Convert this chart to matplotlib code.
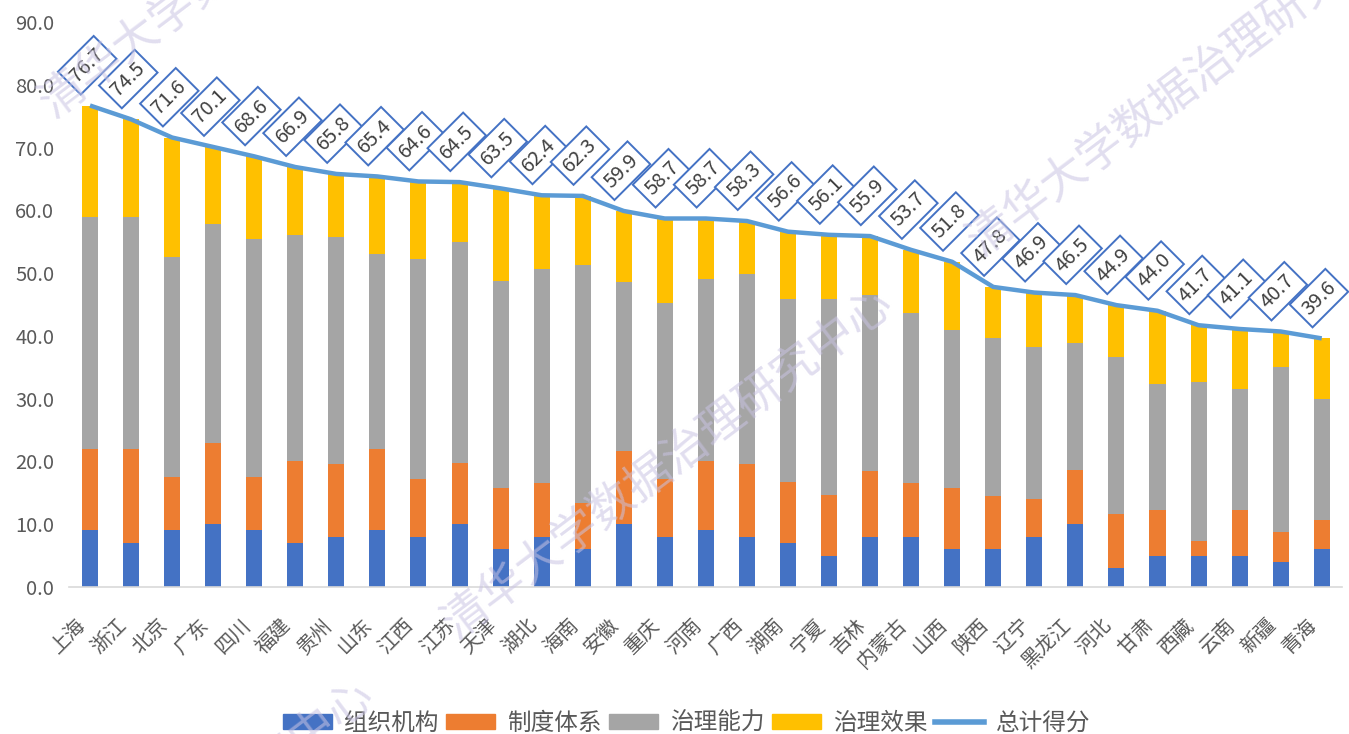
import numpy as np
import matplotlib
matplotlib.use("Agg")
import matplotlib.pyplot as plt
from matplotlib.lines import Line2D
from matplotlib.patches import Patch

plt.rcParams['font.family'] = ['Noto Sans CJK SC', 'DejaVu Sans']

# 省份及各维度得分
provinces = ['上海', '浙江', '北京', '广东', '四川', '福建', '贵州', '山东', '江西', '江苏',
             '天津', '湖北', '海南', '安徽', '重庆', '河南', '广西', '湖南', '宁夏', '吉林',
             '内蒙古', '山西', '陕西', '辽宁', '黑龙江', '河北', '甘肃', '西藏', '云南', '新疆', '青海']
org = [9, 7, 9, 10, 9, 7, 8, 9, 8, 10,
       6, 8, 6, 10, 8, 9, 8, 7, 5, 8,
       8, 6, 6, 8, 10, 3, 5, 5, 5, 4, 6]
system = [13, 15, 8.5, 13, 8.5, 13, 11.6, 13, 9.2, 9.7,
          9.8, 8.6, 7.3, 11.7, 9.2, 11.0, 11.6, 9.8, 9.7, 10.4,
          8.6, 9.7, 8.5, 6.0, 8.6, 8.6, 7.3, 2.3, 7.3, 4.8, 4.7]
ability = [37.0, 36.9, 35.1, 34.9, 38.0, 36.0, 36.2, 31.1, 35.0, 35.2,
           33.0, 34.1, 38.0, 26.9, 28.0, 29.1, 30.2, 29.1, 31.1, 28.1,
           27.0, 25.3, 25.2, 24.3, 20.3, 25.1, 20.1, 25.3, 19.3, 26.3, 19.2]
total = [76.7, 74.5, 71.6, 70.1, 68.6, 66.9, 65.8, 65.4, 64.6, 64.5,
         63.5, 62.4, 62.3, 59.9, 58.7, 58.7, 58.3, 56.6, 56.1, 55.9,
         53.7, 51.8, 47.8, 46.9, 46.5, 44.9, 44.0, 41.7, 41.1, 40.7, 39.6]
# 治理效果 = 总分 - 其余三项
effect = [round(t - a - b - c, 1) for t, a, b, c in zip(total, org, system, ability)]

c_org = '#4472C4'
c_sys = '#ED7D31'
c_abl = '#A5A5A5'
c_eff = '#FFC000'
c_line = '#5B9BD5'
txt_color = '#595959'

fig = plt.figure(figsize=(13.49, 7.34), dpi=100)
ax = fig.add_axes([0.0515, 0.2003, 0.9435, 0.7697])

x = np.arange(len(provinces))
w = 0.39
b1 = np.array(org, dtype=float)
b2 = b1 + np.array(system)
b3 = b2 + np.array(ability)
ax.bar(x, org, w, color=c_org, zorder=2)
ax.bar(x, system, w, bottom=b1, color=c_sys, zorder=2)
ax.bar(x, ability, w, bottom=b2, color=c_abl, zorder=2)
ax.bar(x, effect, w, bottom=b3, color=c_eff, zorder=2)
ax.plot(x, total, color=c_line, lw=3.2, zorder=3, solid_capstyle='butt')

for xi, t in zip(x, total):
    ax.annotate(f'{t:.1f}', (xi, t), xytext=(-2, 29), textcoords='offset points',
                ha='center', va='center', rotation=45, fontsize=14.5, color='#404040',
                bbox=dict(boxstyle='square,pad=0.28', fc='white', ec='#4472C4', lw=1.4),
                zorder=5)

ax.set_xlim(-0.5, len(provinces) - 0.5)
ax.set_ylim(0, 90)
ax.set_yticks(np.arange(0, 91, 10))
ax.set_yticklabels([f'{v:.1f}' for v in np.arange(0, 91, 10)])
ax.set_xticks(x)
ax.set_xticklabels(provinces, rotation=45, ha='right', va='top')
ax.tick_params(axis='both', length=0, labelsize=14.5, colors=txt_color)
ax.tick_params(axis='x', pad=20)
ax.tick_params(axis='y', pad=11)
for s in ['top', 'right', 'left']:
    ax.spines[s].set_visible(False)
ax.spines['bottom'].set_color('#D9D9D9')
ax.spines['bottom'].set_linewidth(1.2)

handles = [Patch(color=c_org), Patch(color=c_sys), Patch(color=c_abl), Patch(color=c_eff),
           Line2D([0], [0], color=c_line, lw=4)]
labels = ['组织机构', '制度体系', '治理能力', '治理效果', '总计得分']
fig.legend(handles, labels, loc='center', bbox_to_anchor=(0.509, 0.014), ncol=5,
           frameon=False, fontsize=17, handlelength=2.1, handleheight=0.6,
           handletextpad=0.5, columnspacing=0.3, labelcolor=txt_color)

# 水印
wm = '清华大学数据治理研究中心'
for px, py in [(0.196, 1.079), (0.495, 0.369), (0.884, 0.891), (0.110, -0.165)]:
    fig.text(px, py, wm, rotation=37, ha='center', va='center', fontsize=33,
             color='#C9C3E3', alpha=0.55, zorder=10)

fig.savefig('out.png', dpi=100)
